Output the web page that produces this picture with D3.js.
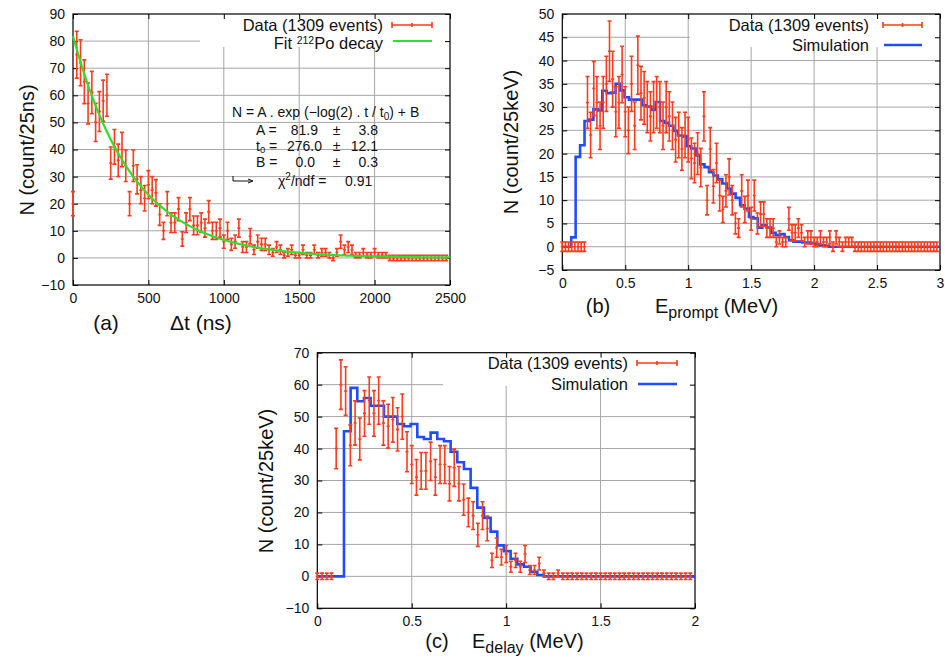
<!DOCTYPE html>
<html><head><meta charset="utf-8">
<script src="https://cdn.jsdelivr.net/npm/d3@7"></script>
<style>body{margin:0;background:#fff}</style>
</head><body>
<svg id="c" width="945" height="659" xmlns="http://www.w3.org/2000/svg"></svg>
<script>
// ---------------- data ----------------
const aBinNs = 25;
const aCounts = [20,75,72,65,57,61,50,54,58,60,
  35,41,36,40,34,20,34,29,25,22,
  27,25,24,16,10,20,13,13,18,7,
  13,18,12,12,13,11,17,10,10,11,
  6,10,5,6,11,4,4,8,3,6,
  5,5,3,2,4,3,1,2,3,1,
  1,3,1,1,3,1,2,2,1,0,
  2,6,3,4,3,1,1,2,1,1,
  2,1,1,1,0,0,0,0,0,0,
  0,0,0,0,0,0,0,0,0,0];
const fitA = 81.9, fitT0 = 276.0, fitB = 0.0;

const bBinMeV = 0.025;
const bCounts = [0,0,0,0,0,0,0,0,31,24,
  34,31,26,31,35,42,36,29,31,37,
  29,25,35,26,39,33,32,30,28,30,
  31,30,26,30,28,26,23,24,21,24,
  23,19,18,20,17,28,10,21,13,18,
  11,8,12,15,10,5,4,12,8,11,
  6,11,5,7,7,4,4,4,1,2,
  1,1,6,3,3,4,3,1,2,2,
  1,1,2,1,1,2,0,2,1,0,
  1,1,1,0,0,0,0,0,0,0,
  0,0,0,0,0,0,0,0,0,0,
  0,0,0,0,0,0,0,0,0,0];
const simBinMeV = 0.0353;
const bSim = [0,0,2,19.3,21.8,27,27.3,29.5,29.3,33.5,
  33,33.1,35,33.6,32.1,31.6,31.6,31.6,30.4,30.1,
  29.4,31.1,27,26.6,26,24.9,23.9,23.7,21.6,21.1,
  19.6,17.7,17.1,16,15.3,14.5,13.6,12.5,11.4,10.5,
  8.9,8.2,6.4,6.1,4.1,4.6,4.1,3,2.5,2.7,
  2.1,1.4,1.1,1.1,0.9,0.9,0.7,0.5,0.3,0.15,
  0,0,0,0,0,0,0,0,0,0,
  0,0,0,0,0,0,0,0,0,0,
  0,0,0,0,0];

const cBinMeV = 0.025;
const cCounts = [0,0,0,0,40,60,58,41,48,43,
  51,55,51,55,48,47,49,46,50,39,
  35,31,33,33,36,31,35,35,29,34,
  29,24,20,19,13,19,15,5,9,6,
  7,3,5,3,7,2,2,4,1,0,
  0,1,0,0,0,0,0,0,0,0,
  0,0,0,0,0,0,0,0,0,0,
  0,0,0,0,0,0,0,0,0,0];
const cSim = [0,0,0,0,45.4,59,54.8,55.8,53.4,53.4,
  50,50,47.7,47,47.7,43.6,43,45,43,42.3,
  39,35.7,33.6,27.7,21.5,18.3,14,9.7,7.9,5.5,
  3.75,3,1.4,0.4,0,0,0,0,0,0,
  0,0,0,0,0,0,0,0,0,0,
  0,0,0,0,0,0,0];

const aXTicks = [0,500,1000,1500,2000,2500];
const aYTicks = [-10,0,10,20,30,40,50,60,70,80,90];
const bXTicks = [0,0.5,1,1.5,2,2.5,3];
const bYTicks = [-5,0,5,10,15,20,25,30,35,40,45,50];
const cXTicks = [0,0.5,1,1.5,2];
const cYTicks = [-10,0,10,20,30,40,50,60,70];
const legendData = "Data (1309 events)";
const legendSim = "Simulation";

// ---------------- drawing ----------------
const FONT = "'Liberation Sans', Arial, Helvetica, sans-serif";
const RED = "#ff3b1b", BLUE = "#1f4cff", GREEN = "#2fe02a", GRID = "#a6a6a6";
const svg = d3.select("#c").attr("font-family", FONT);
const fmt = d => d < 0 ? "\u2212" + Math.abs(d) : String(d);

function panel(o) {
  const x = d3.scaleLinear().domain(o.xDom).range([o.L, o.R]);
  const y = d3.scaleLinear().domain(o.yDom).range([o.B, o.T]);
  const g = svg.append("g");
  const cid = "clip" + o.id;
  svg.append("clipPath").attr("id", cid).append("rect")
    .attr("x", o.L).attr("y", o.T).attr("width", o.R - o.L).attr("height", o.B - o.T);
  const grid = g.append("g").attr("stroke", GRID).attr("stroke-width", 1);
  grid.selectAll("line.gx").data(o.xTicks.filter(t => t > o.xDom[0] && t < o.xDom[1])).join("line")
    .attr("class", "gx").attr("x1", d => x(d)).attr("x2", d => x(d)).attr("y1", o.T).attr("y2", o.B);
  grid.selectAll("line.gy").data(o.yTicks.filter(t => t > o.yDom[0] && t < o.yDom[1])).join("line")
    .attr("class", "gy").attr("y1", d => y(d)).attr("y2", d => y(d)).attr("x1", o.L).attr("x2", o.R);
  g.append("rect").attr("x", o.box[0]).attr("y", o.T).attr("width", o.R - o.box[0]).attr("height", o.box[1] - o.T).attr("fill", "#fff");
  const styleAxis = s => { s.select(".domain").remove(); s.attr("font-size", 14).attr("font-family", FONT); s.selectAll("text").attr("fill", "#111"); s.selectAll("line").attr("stroke", "#000"); };
  g.append("g").attr("transform", `translate(${o.L},0)`)
    .call(d3.axisLeft(y).tickValues(o.yTicks).tickSize(-5).tickPadding(8).tickFormat(fmt)).call(styleAxis);
  g.append("g").attr("transform", `translate(${o.R},0)`)
    .call(d3.axisRight(y).tickValues(o.yTicks).tickSize(-5).tickFormat("")).call(styleAxis);
  g.append("g").attr("transform", `translate(0,${o.B})`)
    .call(d3.axisBottom(x).tickValues(o.xTicks).tickSize(-5).tickPadding(8).tickFormat(fmt)).call(styleAxis);
  g.append("g").attr("transform", `translate(0,${o.T})`)
    .call(d3.axisTop(x).tickValues(o.xTicks).tickSize(-5).tickFormat("")).call(styleAxis);
  g.append("rect").attr("x", o.L).attr("y", o.T).attr("width", o.R - o.L).attr("height", o.B - o.T)
    .attr("fill", "none").attr("stroke", "#000").attr("stroke-width", 1.2);
  return { x, y, g, cid };
}

function errbars(p, binW, vals) {
  const d = vals.map((v, i) => ({ t: i * binW, v, e: v > 0 ? Math.sqrt(v) : 1 }));
  p.g.append("g").attr("stroke", RED).attr("stroke-width", 1.6).attr("fill", "none")
    .selectAll("path").data(d).join("path")
    .attr("d", q => {
      const px = p.x(q.t), y1 = p.y(q.v - q.e), y2 = p.y(q.v + q.e), yc = p.y(q.v);
      return `M${px},${y1}V${y2}M${px - 2},${y1}H${px + 2}M${px - 2},${y2}H${px + 2}M${px - 1.5},${yc}H${px + 1.5}`;
    });
}

function simStep(p, binW, vals) {
  const pts = vals.map((v, k) => [k * binW, v]);
  pts.push([vals.length * binW, vals[vals.length - 1]]);
  p.g.append("path").datum(pts).attr("clip-path", `url(#${p.cid})`)
    .attr("fill", "none").attr("stroke", BLUE).attr("stroke-width", 2.6)
    .attr("d", d3.line().x(d => p.x(d[0])).y(d => p.y(d[1])).curve(d3.curveStepAfter));
}

function legendErr(g, x1, x2, y) {
  const xc = (x1 + x2) / 2;
  g.append("path").attr("stroke", RED).attr("stroke-width", 1.6).attr("fill", "none")
    .attr("d", `M${x1},${y}H${x2}M${x1},${y - 3}V${y + 3}M${x2},${y - 3}V${y + 3}M${xc},${y - 2}V${y + 2}`);
}
function legendText(g, x, y, txt) {
  return g.append("text").attr("x", x).attr("y", y).attr("dy", "0.35em").attr("text-anchor", "end")
    .attr("font-size", 16.5).attr("fill", "#111").text(txt);
}

function yLabel(cx, cy, txt) {
  svg.append("text").attr("transform", `translate(${cx},${cy}) rotate(-90)`).attr("text-anchor", "middle")
    .attr("dy", "0.35em").attr("font-size", 20).attr("fill", "#111").text(txt);
}
function xLabel(px, ex, base, main, sub, size) {
  svg.append("text").attr("x", px).attr("y", base).attr("text-anchor", "middle").attr("font-size", size).attr("fill", "#111").text(main[0]);
  const t = svg.append("text").attr("x", ex).attr("y", base).attr("font-size", size).attr("fill", "#111");
  t.append("tspan").text(main[1]);
  if (sub) {
    t.append("tspan").attr("dy", 5).attr("font-size", 16).text(sub);
    t.append("tspan").attr("dy", -5).attr("font-size", size).text(main[2]);
  }
}

// ---- panel (a)
const pa = panel({ id: "a", L: 73, R: 450, T: 14, B: 285, xDom: [0, 2500], yDom: [-10, 90], xTicks: aXTicks, yTicks: aYTicks, box: [200, 47] });
errbars(pa, aBinNs, aCounts);
const fitPts = d3.range(0, 2500.1, 10).map(t => [t, fitA * Math.exp(-Math.LN2 * t / fitT0) + fitB]);
pa.g.append("path").datum(fitPts).attr("fill", "none").attr("stroke", GREEN).attr("stroke-width", 2.2)
  .attr("d", d3.line().x(d => pa.x(d[0])).y(d => pa.y(d[1])));
legendText(pa.g, 383, 25, legendData);
legendErr(pa.g, 392, 432, 25);
{
  const t = legendText(pa.g, 383, 43, "");
  t.append("tspan").text("Fit ");
  t.append("tspan").attr("font-size", 10.5).attr("dy", -5).text("212");
  t.append("tspan").attr("font-size", 16.5).attr("dy", 5).text("Po decay");
}
pa.g.append("line").attr("x1", 393).attr("x2", 432).attr("y1", 41).attr("y2", 41).attr("stroke", GREEN).attr("stroke-width", 2.2);
// fit box text
{
  const g = pa.g.append("g").attr("font-size", 14).attr("fill", "#111");
  const l1 = g.append("text").attr("x", 232).attr("y", 117);
  l1.append("tspan").text("N = A . exp (\u2212log(2) . t / t");
  l1.append("tspan").attr("dy", 2.5).attr("font-size", 10).text("0");
  l1.append("tspan").attr("dy", -2.5).text(") + B");
  const rows = [
    { lab: "A =", val: "81.9", err: "3.8", y: 134.5, vx: 318 },
    { lab: "t", val: "276.0", err: "12.1", y: 150.5, vx: 322 },
    { lab: "B =", val: "0.0", err: "0.3", y: 167, vx: 315 }
  ];
  rows.forEach(r => {
    const tl = g.append("text").attr("x", 256).attr("y", r.y);
    if (r.lab === "t") { tl.append("tspan").text("t"); tl.append("tspan").attr("dy", 2.5).attr("font-size", 9.5).text("0"); tl.append("tspan").attr("dy", -2.5).text(" ="); }
    else tl.text(r.lab);
    g.append("text").attr("x", r.vx).attr("y", r.y).attr("text-anchor", "end").text(r.val);
    g.append("text").attr("x", 336.5).attr("y", r.y).attr("text-anchor", "middle").text("\u00b1");
    g.append("text").attr("x", 378).attr("y", r.y).attr("text-anchor", "end").text(r.err);
  });
  const lc = g.append("text").attr("x", 278).attr("y", 186);
  lc.append("tspan").text("\u03c7");
  lc.append("tspan").attr("dy", -6).attr("font-size", 10).text("2");
  lc.append("tspan").attr("dy", 6).text("/ndf =");
  g.append("text").attr("x", 345).attr("y", 186).text("0.91");
  g.append("path").attr("fill", "none").attr("stroke", "#111").attr("stroke-width", 1)
    .attr("d", "M233,176V181H252M248,179L253,181L248,183");
}
yLabel(27, 150, "N (count/25ns)");
xLabel(106, 170, 330, ["(a)", "\u0394t (ns)"], null, 21);

// ---- panel (b)
const pb = panel({ id: "b", L: 562.3, R: 940, T: 14, B: 270, xDom: [0, 3], yDom: [-5, 50], xTicks: bXTicks, yTicks: bYTicks, box: [690, 47] });
simStep(pb, simBinMeV, bSim);
errbars(pb, bBinMeV, bCounts);
legendText(pb.g, 869, 25, legendData);
legendErr(pb.g, 883, 922, 25);
legendText(pb.g, 869, 45, legendSim);
pb.g.append("line").attr("x1", 884).attr("x2", 922).attr("y1", 45).attr("y2", 45).attr("stroke", BLUE).attr("stroke-width", 2.6);
yLabel(511, 142, "N (count/25keV)");
xLabel(598, 655, 313, ["(b)", "E", " (MeV)"], "prompt", 20);

// ---- panel (c)
const pc = panel({ id: "c", L: 317.3, R: 695, T: 352.7, B: 608.3, xDom: [0, 2], yDom: [-10, 70], xTicks: cXTicks, yTicks: cYTicks, box: [443, 386] });
simStep(pc, simBinMeV, cSim);
errbars(pc, cBinMeV, cCounts);
legendText(pc.g, 628, 363, legendData);
legendErr(pc.g, 637, 677, 363);
legendText(pc.g, 628, 384, legendSim);
pc.g.append("line").attr("x1", 638).attr("x2", 677).attr("y1", 384).attr("y2", 384).attr("stroke", BLUE).attr("stroke-width", 2.6);
yLabel(266, 481, "N (count/25keV)");
xLabel(437, 472, 648, ["(c)", "E", " (MeV)"], "delay", 20);
</script>
</body></html>
